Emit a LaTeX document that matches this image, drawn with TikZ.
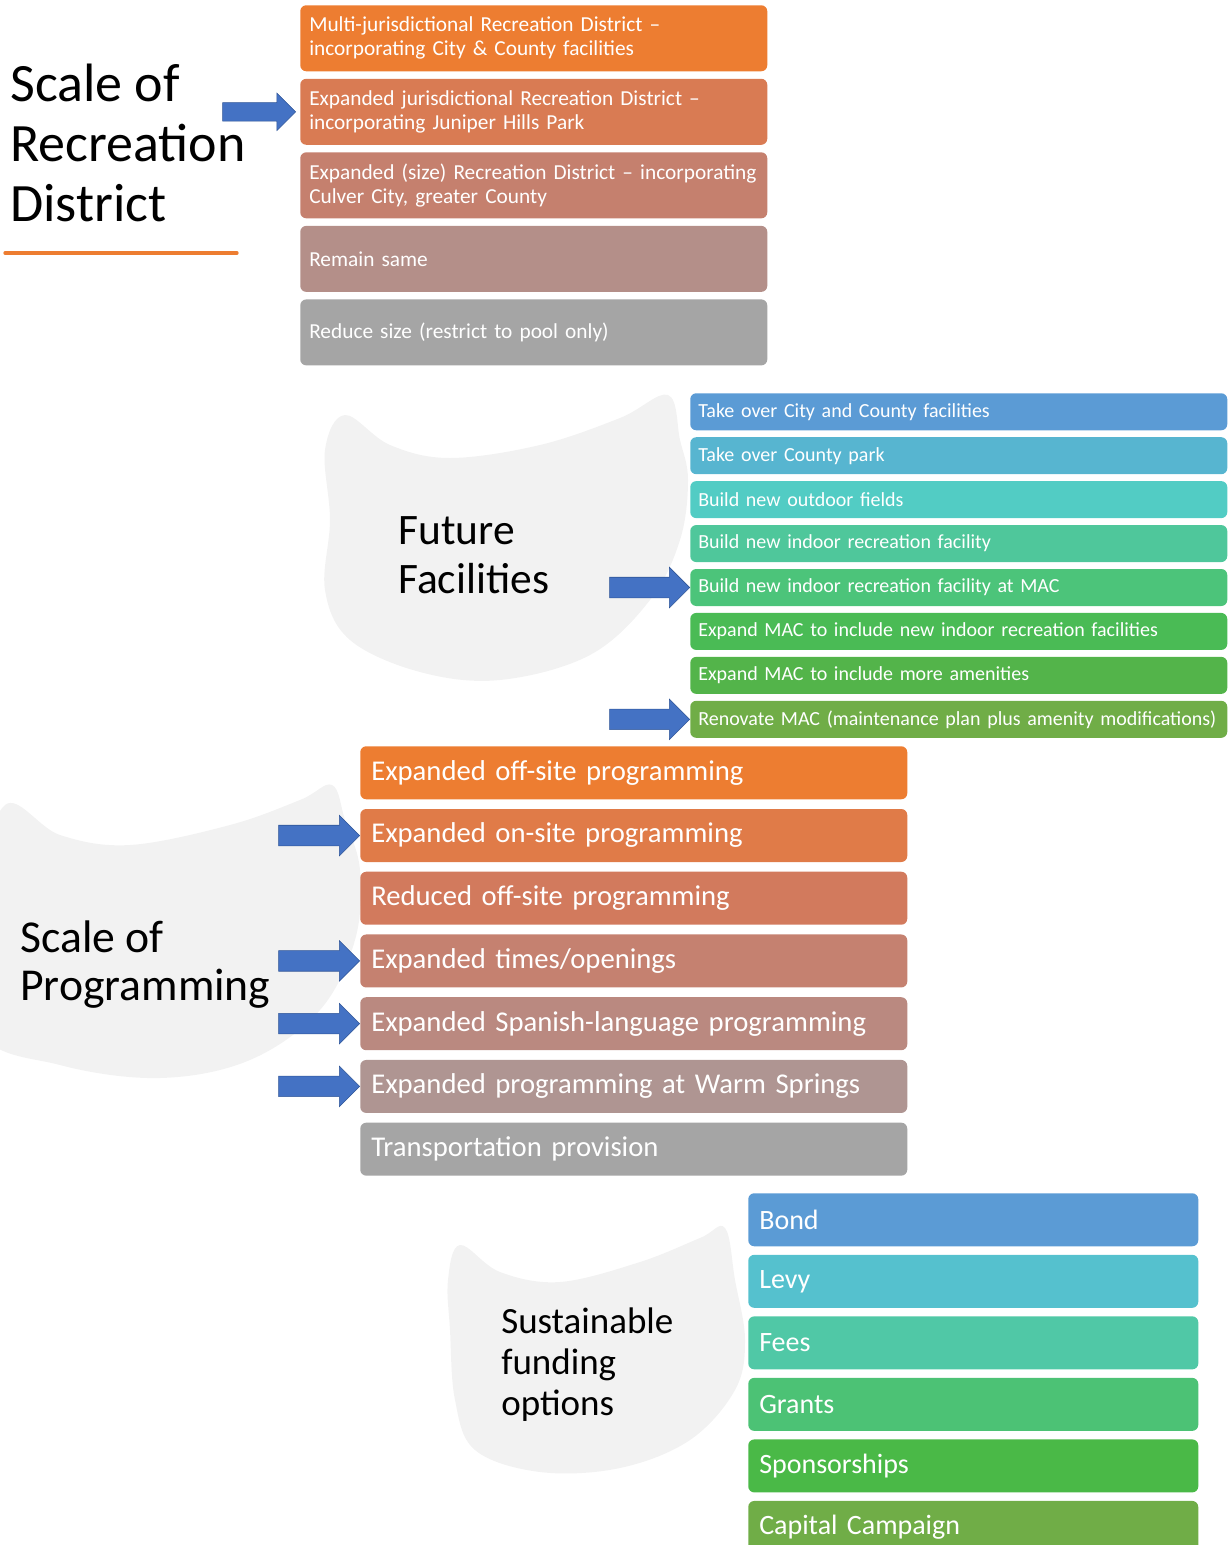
\documentclass[tikz,border=0pt]{standalone}
\usepackage{fontspec}
\setmainfont{Carlito}
\usetikzlibrary{positioning,shapes.arrows}

% orange to grey steps
\definecolor{sd1}{HTML}{ED7D31}
\definecolor{sd2}{HTML}{D97B53}
\definecolor{sd3}{HTML}{C5806E}
\definecolor{sd4}{HTML}{B48F89}
\definecolor{sd5}{HTML}{A5A5A5}
\definecolor{pg1}{HTML}{ED7D31}
\definecolor{pg2}{HTML}{E07B48}
\definecolor{pg3}{HTML}{D27A5D}
\definecolor{pg4}{HTML}{C58170}
\definecolor{pg5}{HTML}{BA8980}
\definecolor{pg6}{HTML}{AF9592}
\definecolor{pg7}{HTML}{A5A5A5}
% blue to green steps
\definecolor{ff1}{HTML}{5B9BD5}
\definecolor{ff2}{HTML}{57B5D0}
\definecolor{ff3}{HTML}{52CCC4}
\definecolor{ff4}{HTML}{4FC79B}
\definecolor{ff5}{HTML}{4CC47A}
\definecolor{ff6}{HTML}{4ABB55}
\definecolor{ff7}{HTML}{53B44A}
\definecolor{ff8}{HTML}{70AD47}
\definecolor{fo1}{HTML}{5B9BD5}
\definecolor{fo2}{HTML}{55C1CE}
\definecolor{fo3}{HTML}{50C8A6}
\definecolor{fo4}{HTML}{4CC275}
\definecolor{fo5}{HTML}{4AB947}
\definecolor{fo6}{HTML}{70AD47}
\definecolor{arrowblue}{HTML}{4472C4}
\definecolor{arrowedge}{HTML}{2F5597}
\definecolor{blobgray}{HTML}{F2F2F2}

\tikzset{
  optbox/.style={rectangle, rounded corners=4.5pt, text=white, anchor=north west, align=left, inner ysep=0pt},
  districtbox/.style={optbox, minimum width=350.25pt, minimum height=49.5pt, text width=336.75pt, inner xsep=6.75pt, font=\fontsize{16}{18}\selectfont},
  facilitybox/.style={optbox, minimum width=402.75pt, minimum height=27.75pt, text width=390.75pt, inner xsep=6pt, font=\fontsize{15}{18}\selectfont},
  programbox/.style={optbox, minimum width=410.25pt, minimum height=39.75pt, text width=393.75pt, inner xsep=8.25pt, font=\fontsize{21.5}{25}\selectfont},
  fundbox/.style={optbox, minimum width=337.5pt, minimum height=39.75pt, text width=321pt, inner xsep=8.25pt, font=\fontsize{21}{25}\selectfont},
  heading/.style={anchor=base west, align=left, inner sep=0pt, text=black},
  bluearrow/.style={single arrow, fill=arrowblue, draw=arrowedge, line width=0.4pt, inner sep=0pt, inner ysep=7.5pt, single arrow head extend=7.5pt, minimum height=60pt, anchor=tip}
}

\begin{document}
\begin{tikzpicture}[x=0.75pt, y=-0.75pt]
  \useasboundingbox (0,0) rectangle (1231,1545);

  % brush strokes behind the headings
  \fill[blobgray] plot[smooth cycle, tension=0.6] coordinates {(345,415) (390,445) (450,458) (540,445) (620,418) (668,395) (680,440) (688,480) (680,540) (650,600) (590,655) (500,680) (420,672) (350,640) (325,590) (330,520) (325,450)};
  \fill[blobgray] plot[smooth cycle, tension=0.6] coordinates {(5,805) (60,835) (130,845) (230,825) (300,800) (332,785) (345,820) (360,870) (355,940) (320,1010) (250,1060) (160,1078) (60,1065) (-20,1030) (-20,900)};
  \fill[blobgray] plot[smooth cycle, tension=0.6] coordinates {(460,1245) (500,1272) (560,1282) (640,1262) (700,1238) (725,1228) (735,1280) (745,1340) (735,1390) (690,1440) (620,1468) (540,1472) (475,1450) (455,1400) (450,1330) (448,1280)};

  % scale of recreation district
  \node[heading, font=\fontsize{40.5}{45}\selectfont] (district) at (10,221) {Scale of\\Recreation\\District};
  \draw[sd1, line width=2.5pt, line cap=round] (5,253) -- (237,253);

  \node[districtbox, fill=sd1] (sd1) at (300,5) {Multi-jurisdictional Recreation District --\\incorporating City \& County facilities};
  \node[districtbox, fill=sd2, below=5.25pt of sd1] (sd2) {Expanded jurisdictional Recreation District --\\incorporating Juniper Hills Park};
  \node[districtbox, fill=sd3, below=5.25pt of sd2] (sd3) {Expanded (size) Recreation District -- incorporating\\Culver City, greater County};
  \node[districtbox, fill=sd4, below=5.25pt of sd3] (sd4) {Remain same};
  \node[districtbox, fill=sd5, below=5.25pt of sd4] (sd5) {Reduce size (restrict to pool only)};

  \node[bluearrow, inner ysep=6.75pt, single arrow head extend=7.1pt, minimum height=54.75pt] (arrsd) at ([xshift=-3pt]sd2.west) {};

  % future facilities
  \node[heading, font=\fontsize{32.6}{36.75}\selectfont] (facilities) at (398,593) {Future\\Facilities};

  \node[facilitybox, fill=ff1] (ff1) at (690,393) {Take over City and County facilities};
  \node[facilitybox, fill=ff2, below=4.8pt of ff1] (ff2) {Take over County park};
  \node[facilitybox, fill=ff3, below=4.8pt of ff2] (ff3) {Build new outdoor fields};
  \node[facilitybox, fill=ff4, below=4.8pt of ff3] (ff4) {Build new indoor recreation facility};
  \node[facilitybox, fill=ff5, below=4.8pt of ff4] (ff5) {Build new indoor recreation facility at MAC};
  \node[facilitybox, fill=ff6, below=4.8pt of ff5] (ff6) {Expand MAC to include new indoor recreation facilities};
  \node[facilitybox, fill=ff7, below=4.8pt of ff6] (ff7) {Expand MAC to include more amenities};
  \node[facilitybox, fill=ff8, below=4.8pt of ff7] (ff8) {Renovate MAC (maintenance plan plus amenity modifications)};

  \node[bluearrow] (arrff5) at (ff5.west) {};
  \node[bluearrow] (arrff8) at (ff8.west) {};

  % scale of programming
  \node[heading, font=\fontsize{34.25}{36}\selectfont] (programming) at (20,1000) {Scale of\\Programming};

  \node[programbox, fill=pg1] (pg1) at (360,746) {Expanded off-site programming};
  \node[programbox, fill=pg2, below=6.9pt of pg1] (pg2) {Expanded on-site programming};
  \node[programbox, fill=pg3, below=6.9pt of pg2] (pg3) {Reduced off-site programming};
  \node[programbox, fill=pg4, below=6.9pt of pg3] (pg4) {Expanded times/openings};
  \node[programbox, fill=pg5, below=6.9pt of pg4] (pg5) {Expanded Spanish-language programming};
  \node[programbox, fill=pg6, below=6.9pt of pg5] (pg6) {Expanded programming at Warm Springs};
  \node[programbox, fill=pg7, below=6.9pt of pg6] (pg7) {Transportation provision};

  \node[bluearrow, minimum height=60.75pt] (arrpg2) at (pg2.west) {};
  \node[bluearrow, minimum height=60.75pt] (arrpg4) at (pg4.west) {};
  \node[bluearrow, minimum height=60.75pt] (arrpg5) at (pg5.west) {};
  \node[bluearrow, minimum height=60.75pt] (arrpg6) at (pg6.west) {};

  % sustainable funding options
  \node[heading, font=\fontsize{27.75}{30.75}\selectfont] (funding) at (501,1415) {Sustainable\\funding\\options};

  \node[fundbox, fill=fo1] (fo1) at (748,1193) {Bond};
  \node[fundbox, fill=fo2, below=6pt of fo1] (fo2) {Levy};
  \node[fundbox, fill=fo3, below=6pt of fo2] (fo3) {Fees};
  \node[fundbox, fill=fo4, below=6pt of fo3] (fo4) {Grants};
  \node[fundbox, fill=fo5, below=6pt of fo4] (fo5) {Sponsorships};
  \node[fundbox, fill=fo6, below=6pt of fo5] (fo6) {Capital Campaign};
\end{tikzpicture}
\end{document}
